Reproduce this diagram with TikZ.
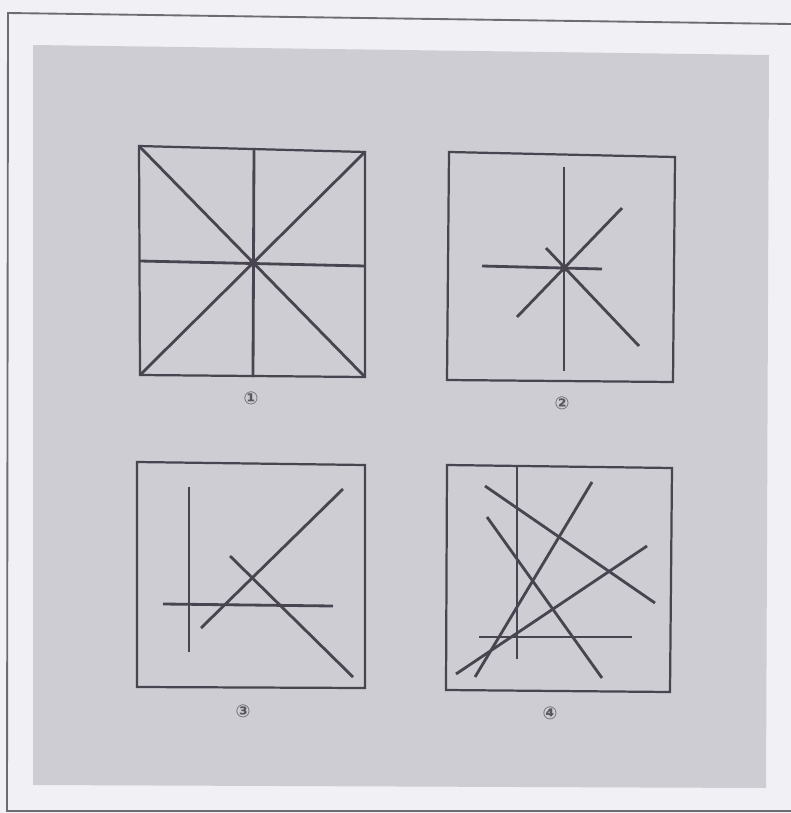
\documentclass[tikz,border=0pt]{standalone}
\usepackage{fontspec}
\newfontfamily\circfont{DejaVu Sans}
\definecolor{paperwhite}{RGB}{241, 240, 244}
\definecolor{plategray}{RGB}{206, 205, 211}
\definecolor{inkgray}{RGB}{72, 68, 80}
\definecolor{rulegray}{RGB}{110, 108, 115}

\begin{document}
\begin{tikzpicture}[
    x=0.03cm, y=-0.03cm,
    square/.style={draw=inkgray, line width=1.9pt, line join=miter},
    stroke/.style={draw=inkgray, line width=2.4pt},
    hub/.style={fill=inkgray, circle, inner sep=0pt, minimum size=7pt},
    caption/.style={font=\circfont\bfseries\fontsize{15}{15}\selectfont, text=inkgray!90, inner sep=0pt}
]
\useasboundingbox (0,0) rectangle (791,813);
\fill[paperwhite] (0,0) rectangle (791,813);

% Page frame and grey plate
\draw[rulegray, line width=1.6pt] (791,24) -- (8,13) -- (7,811) -- (791,811);
\fill[plategray] (33,45) -- (769,55) -- (766,788) -- (33,785) -- cycle;

% Square 1: star through the centre
\draw[square] (139,146) -- (365,152) -- (365,377) -- (140,375) -- cycle;
\draw[stroke] (254,148) -- (253,377);
\draw[stroke] (140,261) -- (365,266);
\draw[stroke] (139,146) -- (365,377);
\draw[stroke] (365,152) -- (140,375);
\node[hub] (hubA) at (253,263) {};
\node[caption] (capA) at (251,398) {①};

% Square 2: short star
\draw[square] (449,152) -- (675,157) -- (673,382) -- (447,380) -- cycle;
\draw[stroke] (564,167) -- (564,371);
\draw[stroke] (482,266) -- (602,269);
\draw[stroke] (517,317) -- (622,208);
\draw[stroke] (546,248) -- (639,346);
\node[hub] (hubB) at (564,268) {};
\node[caption] (capB) at (562,403) {②};

% Square 3: four loose lines
\draw[square] (137,462) -- (365,465) -- (365,688) -- (137,687) -- cycle;
\draw[stroke] (189,487) -- (189,652);
\draw[stroke] (163,604) -- (333,606);
\draw[stroke] (201,628) -- (343,489);
\draw[stroke] (230,556) -- (353,677);
\node[caption] (capC) at (243,711) {③};

% Square 4: six crossing lines
\draw[square] (447,465) -- (672,468) -- (670,692) -- (446,690) -- cycle;
\draw[stroke] (517,467) -- (517,659);
\draw[stroke] (479,637) -- (632,637);
\draw[stroke] (485,486) -- (655,603);
\draw[stroke] (487,517) -- (602,678);
\draw[stroke] (475,677) -- (592,482);
\draw[stroke] (456,674) -- (647,546);
\node[caption] (capD) at (550,713) {④};

\end{tikzpicture}
\end{document}
